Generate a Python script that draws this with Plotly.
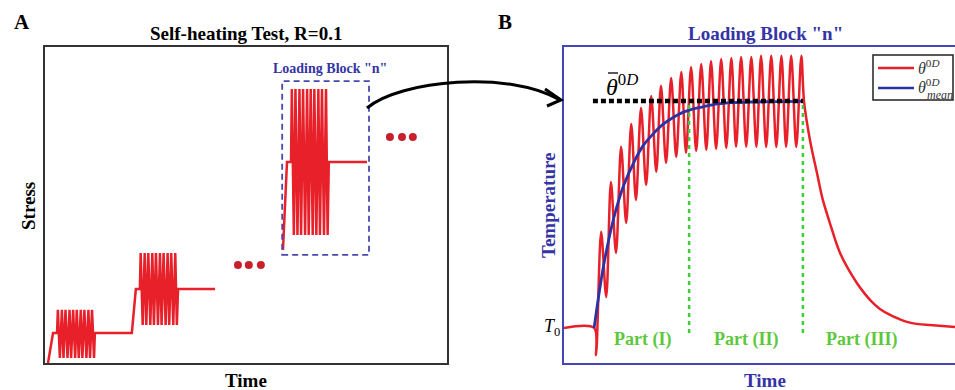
import plotly.graph_objects as go

W, H = 955, 390

# ---------------- Panel A: stress history of the self-heating test ----------------
# time and stress in arbitrary schematic units (0-100)
steps_t = [0.75, 2.0, 3.0,
           3.2, 3.7, 4.2, 4.6, 5.1, 5.6, 6.1, 6.5, 7.0, 7.5, 7.9, 8.4, 8.9, 9.3, 9.8, 10.3, 10.8, 11.2, 11.7, 12.2,
           12.4, 21.6, 22.6, 23.6,
           23.8, 24.3, 24.8, 25.2, 25.7, 26.2, 26.7, 27.1, 27.6, 28.1, 28.6, 29.0, 29.5, 30.0, 30.5, 30.9, 31.4, 31.9, 32.4, 32.8,
           33.1, 42.3]
steps_s = [0.0, 9.5, 9.5,
           16.8, 1.6, 16.8, 1.6, 16.8, 1.6, 16.8, 1.6, 16.8, 1.6, 16.8, 1.6, 16.8, 1.6, 16.8, 1.6, 16.8, 1.6, 16.8, 1.6,
           9.5, 9.5, 23.4, 23.4,
           34.8, 12.0, 34.8, 12.0, 34.8, 12.0, 34.8, 12.0, 34.8, 12.0, 34.8, 12.0, 34.8, 12.0, 34.8, 12.0, 34.8, 12.0, 34.8, 12.0,
           23.4, 23.4]

block_n_t = [59.2, 60.2, 61.2,
             61.4, 61.9, 62.3, 62.8, 63.3, 63.7, 64.2, 64.7, 65.2, 65.6, 66.1, 66.6, 67.0, 67.5, 68.0, 68.4, 68.9, 69.4, 69.9, 70.3,
             70.6, 80.1]
block_n_s = [35.8, 63.6, 63.6,
             86.7, 40.5, 86.7, 40.5, 86.7, 40.5, 86.7, 40.5, 86.7, 40.5, 86.7, 40.5, 86.7, 40.5, 86.7, 40.5, 86.7, 40.5, 86.7, 40.5,
             63.6, 63.6]

dots_a_t = [48.0, 50.7, 53.7, 85.8, 88.8, 91.5]
dots_a_s = [31.0, 31.0, 31.0, 71.5, 71.5, 71.5]

block_box_t = [59.0, 80.6]
block_box_s = [34.2, 89.2]

# ---------------- Panel B: temperature during loading block "n" ----------------
temp_t = [0.0, 7.7,
          8.2, 9.5, 10.8, 12.0, 13.3, 14.6, 15.9, 17.2, 18.4, 19.7, 21.0, 22.3, 23.6, 24.8, 26.1, 27.4, 28.7, 30.0, 31.2, 32.5,
          33.8, 35.1, 36.4, 37.6, 38.9, 40.2, 41.5, 42.8, 44.0, 45.3, 46.6, 47.9, 49.2, 50.4, 51.7, 53.0, 54.3, 55.6, 56.8, 58.1,
          59.4, 60.7,
          61.4, 62.9, 64.7, 66.2, 68.0, 70.6, 74.9, 77.0, 79.0, 80.8, 83.4, 85.4, 87.7, 90.6, 93.6, 100.0]
temp_y = [11.1, 11.1,
          2.5, 41.5, 20.9, 57.3, 34.8, 68.4, 44.3, 75.6, 51.6, 80.7, 56.3, 84.5, 60.5, 87.7, 63.3, 90.2, 65.2, 92.1, 66.5, 93.7,
          67.1, 94.6, 67.4, 95.6, 67.7, 96.2, 68.0, 96.5, 68.4, 96.8, 68.4, 96.8, 68.4, 97.2, 68.4, 97.2, 68.4, 97.2, 68.4, 97.2,
          68.4, 97.2,
          82.6, 70.6, 60.1, 51.6, 44.3, 34.8, 25.3, 21.8, 19.0, 17.1, 15.2, 14.1, 13.0, 12.3, 12.0, 11.4]

mean_t = [7.7, 10.2, 12.8, 15.3, 17.9, 20.2, 22.8, 25.3, 27.9, 30.4, 33.0, 35.3, 37.9, 40.4, 43.0, 47.6, 61.1]
mean_y = [11.1, 31.3, 46.2, 56.3, 63.6, 68.7, 72.5, 75.5, 77.7, 79.3, 80.4, 81.0, 81.7, 82.1, 82.4, 82.6, 82.8]

steady_t = [7.4, 61.1]
steady_y = 82.9
T0 = 11.1
part_bounds = [32.0, 61.1]
part_line_y = [9.5, 82.9]
part_labels = ["Part (I)", "Part (II)", "Part (III)"]
part_label_t = [20.2, 46.6, 76.2]
part_label_y = 7.3

RED = "#e8202a"
BLUE = "#2b32a6"
NAVY = "#3434a6"
GREEN = "#5cc83c"
SERIF = "Liberation Serif"


def px(x):
    return x / W


def py(y):
    return 1 - y / H


fig = go.Figure()

# Panel A: stepped loading blocks
fig.add_trace(go.Scatter(x=steps_t, y=steps_s, mode="lines", line=dict(color=RED, width=2.5),
                         xaxis="x", yaxis="y", hoverinfo="skip"))
fig.add_trace(go.Scatter(x=block_n_t, y=block_n_s, mode="lines", line=dict(color=RED, width=2.5),
                         xaxis="x", yaxis="y", hoverinfo="skip"))
fig.add_trace(go.Scatter(x=dots_a_t, y=dots_a_s, mode="markers", marker=dict(color="#c8202a", size=8),
                         xaxis="x", yaxis="y", hoverinfo="skip"))

# Panel B: temperature response and its running mean
fig.add_trace(go.Scatter(x=temp_t, y=temp_y, mode="lines", line=dict(color=RED, width=2.5, shape="spline", smoothing=0.9),
                         xaxis="x2", yaxis="y2", name="θ0D"))
fig.add_trace(go.Scatter(x=mean_t, y=mean_y, mode="lines", line=dict(color=BLUE, width=2.8, shape="spline"),
                         xaxis="x2", yaxis="y2", name="θ0D mean"))
fig.add_trace(go.Scatter(x=steady_t, y=[steady_y, steady_y], mode="lines",
                         line=dict(color="black", width=4.5, dash="5px,3px"),
                         xaxis="x2", yaxis="y2", hoverinfo="skip"))
for tb in part_bounds:
    fig.add_trace(go.Scatter(x=[tb, tb], y=part_line_y, mode="lines",
                             line=dict(color="#3fcc3a", width=2.5, dash="4px,4px"),
                             xaxis="x2", yaxis="y2", hoverinfo="skip"))

shapes = [
    dict(type="rect", xref="x", yref="y", x0=block_box_t[0], x1=block_box_t[1], y0=block_box_s[0], y1=block_box_s[1],
         line=dict(color="#4848b0", width=1.8, dash="6px,4px")),
    # curved arrow linking the loading block to panel B
    dict(type="path", xref="paper", yref="paper",
         path=f"M {px(367)},{py(108)} C {px(400)},{py(80)} {px(510)},{py(70)} {px(560)},{py(100)}",
         line=dict(color="black", width=3)),
    dict(type="path", xref="paper", yref="paper",
         path=f"M {px(545)},{py(89)} L {px(561)},{py(100)} L {px(547)},{py(106)}",
         line=dict(color="black", width=3)),
    # bar over the steady-state temperature symbol
    dict(type="line", xref="paper", yref="paper", x0=px(608), x1=px(618), y0=py(73), y1=py(73),
         line=dict(color="#222222", width=1.5)),
    # legend frame and line samples
    dict(type="rect", xref="paper", yref="paper", x0=px(873), x1=px(953), y0=py(100), y1=py(55),
         line=dict(color="#222222", width=1.5), fillcolor="white", layer="above"),
    dict(type="line", xref="paper", yref="paper", x0=px(878), x1=px(914), y0=py(68), y1=py(68),
         line=dict(color=RED, width=2.5), layer="above"),
    dict(type="line", xref="paper", yref="paper", x0=px(878), x1=px(914), y0=py(88), y1=py(88),
         line=dict(color=BLUE, width=2.5), layer="above"),
]

ann = []


def text(x, y, s, size, color="black", bold=True, angle=0, xref="paper", yref="paper", xanchor="center"):
    ann.append(dict(x=x, y=y, xref=xref, yref=yref, text=(f"<b>{s}</b>" if bold else s), showarrow=False,
                    font=dict(family=SERIF, size=size, color=color), textangle=angle,
                    xanchor=xanchor, yanchor="middle"))


text(px(22), py(22), "A", 21)
text(px(505), py(22), "B", 21)
text(px(246), py(33), "Self-heating Test, R=0.1", 19)
text(px(246), py(380), "Time", 19)
text(px(28), py(206), "Stress", 19, angle=-90)
text(px(330), py(68), "Loading Block \"n\"", 14, color=NAVY)
text(px(765), py(33), "Loading Block \"n\"", 19, color=NAVY)
text(px(765), py(380), "Time", 19, color=NAVY)
text(px(548), py(205), "Temperature", 19, color=NAVY, angle=-90)
text(px(552), T0, "<i>T</i><sub>0</sub>", 18, bold=False, yref="y2")
text(px(604), py(85), "<i>θ</i><sup>0<i>D</i></sup>", 24, bold=False, xanchor="left")
for lbl, tl in zip(part_labels, part_label_t):
    text(tl, part_label_y, lbl, 18, color=GREEN, xref="x2", yref="y2")

# legend labels
text(px(916), py(67), "<i>θ</i><sup>0<i>D</i></sup>", 16, color="#333333", bold=False, xanchor="left")
text(px(916), py(86), "<i>θ</i><sup>0<i>D</i></sup>", 16, color="#333333", bold=False, xanchor="left")
text(px(925), py(95), "<i>mean</i>", 12, color="#333333", bold=False, xanchor="left")

axis_off = dict(showticklabels=False, ticks="", showgrid=False, zeroline=False)
fig.update_layout(
    width=W, height=H, margin=dict(l=0, r=0, t=0, b=0),
    paper_bgcolor="white", plot_bgcolor="white", showlegend=False,
    xaxis=dict(domain=[px(45), px(447)], range=[0, 100], showline=True, mirror=True,
               linecolor="#333333", linewidth=1.5, anchor="y", **axis_off),
    yaxis=dict(domain=[py(363), py(47)], range=[0, 100], showline=True, mirror=True,
               linecolor="#333333", linewidth=1.5, anchor="x", **axis_off),
    xaxis2=dict(domain=[px(564), 1], range=[0, 100], showline=True, mirror=True,
                linecolor="#4545b5", linewidth=2, anchor="y2", **axis_off),
    yaxis2=dict(domain=[py(363), py(47)], range=[0, 100], showline=True, mirror=False,
                linecolor="#4545b5", linewidth=2, anchor="x2", **axis_off),
    shapes=shapes, annotations=ann,
)

fig.write_html("out.html")
